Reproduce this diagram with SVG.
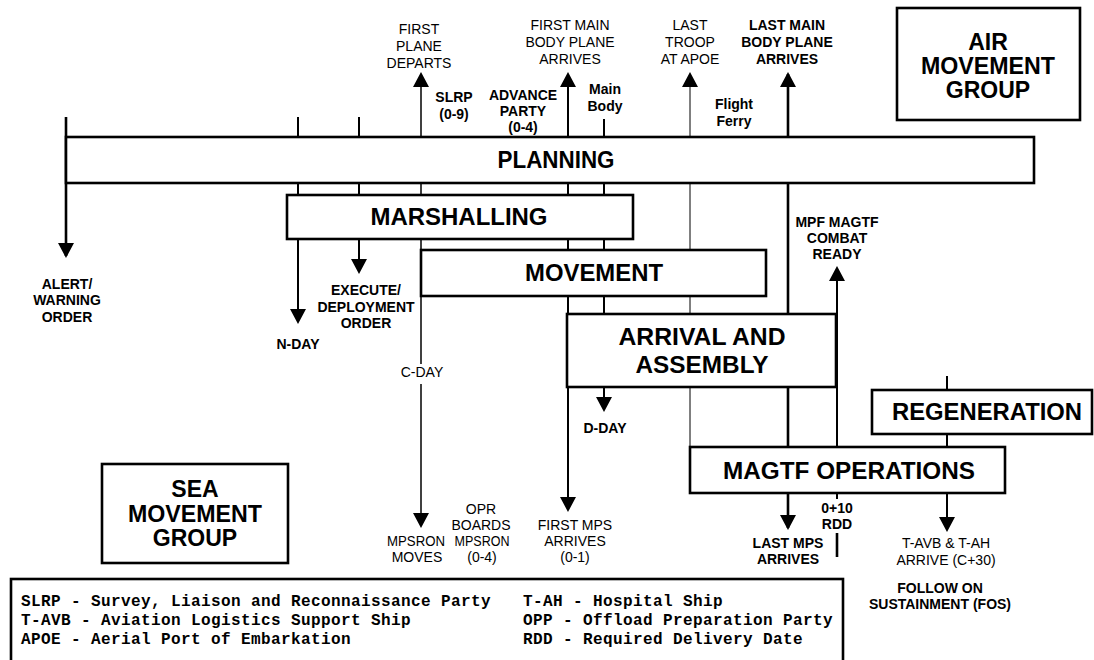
<svg xmlns="http://www.w3.org/2000/svg" width="1094" height="660" viewBox="0 0 1094 660">
<style>
.box{fill:#fff;stroke:#000;stroke-width:2.6}
.ttl{font-family:"Liberation Sans",Arial,sans-serif;font-weight:bold;font-size:23px;text-anchor:middle;fill:#000}
.lb{font-family:"Liberation Sans",Arial,sans-serif;font-weight:bold;font-size:14px;text-anchor:middle;fill:#000}
.lr{font-family:"Liberation Sans",Arial,sans-serif;font-size:14px;text-anchor:middle;fill:#000}
.lg{font-family:"Liberation Mono","Courier New",monospace;font-weight:bold;font-size:16px;letter-spacing:0.4px;fill:#000}
.c{fill:none;stroke:#000;stroke-width:2}
.thin{stroke-width:1}
.mid{stroke-width:1.5}
.thick{stroke-width:2.6}
</style>
<defs>
<marker id="ah" viewBox="0 0 15 16" refX="13" refY="8" markerWidth="15" markerHeight="16" markerUnits="userSpaceOnUse" orient="auto-start-reverse">
<path d="M0,0 L15,8 L0,16 z" fill="#000"/>
</marker>
</defs>

<g id="connectors">
<line class="c thick" x1="66" y1="117" x2="66" y2="256" marker-end="url(#ah)"/>
<line class="c" x1="298" y1="117" x2="298" y2="322" marker-end="url(#ah)"/>
<line class="c" x1="359" y1="117" x2="359" y2="272" marker-end="url(#ah)"/>
<line class="c mid" x1="421" y1="74" x2="421" y2="364" marker-start="url(#ah)"/>
<line class="c mid" x1="421" y1="384" x2="421" y2="526" marker-end="url(#ah)"/>
<line class="c" x1="568" y1="74" x2="568" y2="510" marker-start="url(#ah)" marker-end="url(#ah)"/>
<line class="c" x1="604" y1="119" x2="604" y2="410" marker-end="url(#ah)"/>
<line class="c thin" x1="690" y1="74" x2="690" y2="447" marker-start="url(#ah)"/>
<line class="c thick" x1="788" y1="74" x2="788" y2="528" marker-start="url(#ah)" marker-end="url(#ah)"/>
<line class="c" x1="837" y1="447" x2="837" y2="268" marker-end="url(#ah)"/>
<line class="c" x1="837" y1="493" x2="837" y2="499"/>
<line class="c thick" x1="837" y1="533" x2="837" y2="557"/>
<line class="c" x1="947" y1="376" x2="947" y2="530" marker-end="url(#ah)"/>
</g>

<g id="planning">
<rect class="box" x="66" y="137" width="968" height="46"/>
<text class="ttl" x="556" y="168" textLength="117" lengthAdjust="spacingAndGlyphs">PLANNING</text>
</g>
<g id="marshalling">
<rect class="box" x="287" y="195" width="346" height="44"/>
<text class="ttl" x="459" y="225" textLength="177" lengthAdjust="spacingAndGlyphs">MARSHALLING</text>
</g>
<g id="movement">
<rect class="box" x="421" y="250" width="345" height="46"/>
<text class="ttl" x="594" y="281" textLength="138" lengthAdjust="spacingAndGlyphs">MOVEMENT</text>
</g>
<g id="arrival">
<rect class="box" x="567" y="314" width="269" height="73"/>
<text class="ttl" x="702" y="345" textLength="167" lengthAdjust="spacingAndGlyphs">ARRIVAL AND</text>
<text class="ttl" x="702" y="373" textLength="133" lengthAdjust="spacingAndGlyphs">ASSEMBLY</text>
</g>
<g id="regeneration">
<rect class="box" x="872" y="390" width="220" height="44"/>
<text class="ttl" x="987" y="420" textLength="190" lengthAdjust="spacingAndGlyphs">REGENERATION</text>
</g>
<g id="magtf-operations">
<rect class="box" x="690" y="447" width="315" height="46"/>
<text class="ttl" x="849" y="479" textLength="252" lengthAdjust="spacingAndGlyphs">MAGTF OPERATIONS</text>
</g>
<g id="air-movement-group">
<rect class="box" x="897" y="8" width="183" height="112"/>
<text class="ttl" x="988" y="50">AIR</text>
<text class="ttl" x="988" y="74" textLength="134" lengthAdjust="spacingAndGlyphs">MOVEMENT</text>
<text class="ttl" x="988" y="98">GROUP</text>
</g>
<g id="sea-movement-group">
<rect class="box" x="102" y="464" width="186" height="99"/>
<text class="ttl" x="195" y="497">SEA</text>
<text class="ttl" x="195" y="522" textLength="134" lengthAdjust="spacingAndGlyphs">MOVEMENT</text>
<text class="ttl" x="195" y="546">GROUP</text>
</g>

<g id="labels">
<text class="lr" x="419" y="34">FIRST</text>
<text class="lr" x="419" y="51">PLANE</text>
<text class="lr" x="419" y="68">DEPARTS</text>
<text class="lb" x="454" y="102">SLRP</text>
<text class="lb" x="454" y="119">(0-9)</text>
<text class="lb" x="523" y="100">ADVANCE</text>
<text class="lb" x="523" y="116">PARTY</text>
<text class="lb" x="523" y="132">(0-4)</text>
<text class="lr" x="570" y="30">FIRST MAIN</text>
<text class="lr" x="570" y="47">BODY PLANE</text>
<text class="lr" x="570" y="64">ARRIVES</text>
<text class="lb" x="605" y="94">Main</text>
<text class="lb" x="605" y="111">Body</text>
<text class="lr" x="690" y="30">LAST</text>
<text class="lr" x="690" y="47">TROOP</text>
<text class="lr" x="690" y="64">AT APOE</text>
<text class="lb" x="734" y="109">Flight</text>
<text class="lb" x="734" y="126">Ferry</text>
<text class="lb" x="787" y="30">LAST MAIN</text>
<text class="lb" x="787" y="47">BODY PLANE</text>
<text class="lb" x="787" y="64">ARRIVES</text>
<text class="lb" x="67" y="289">ALERT/</text>
<text class="lb" x="67" y="305">WARNING</text>
<text class="lb" x="67" y="322">ORDER</text>
<text class="lb" x="298" y="349">N-DAY</text>
<text class="lb" x="366" y="295">EXECUTE/</text>
<text class="lb" x="366" y="312">DEPLOYMENT</text>
<text class="lb" x="366" y="328">ORDER</text>
<text class="lr" x="422" y="377">C-DAY</text>
<text class="lb" x="837" y="227">MPF MAGTF</text>
<text class="lb" x="837" y="243">COMBAT</text>
<text class="lb" x="837" y="259">READY</text>
<text class="lb" x="605" y="433">D-DAY</text>
<text class="lr" x="481" y="514">OPR</text>
<text class="lr" x="481" y="530">BOARDS</text>
<text class="lr" x="482" y="546" textLength="55" lengthAdjust="spacingAndGlyphs">MPSRON</text>
<text class="lr" x="482" y="562">(0-4)</text>
<text class="lr" x="416" y="546" textLength="58" lengthAdjust="spacingAndGlyphs">MPSRON</text>
<text class="lr" x="417" y="562">MOVES</text>
<text class="lr" x="575" y="530">FIRST MPS</text>
<text class="lr" x="575" y="546">ARRIVES</text>
<text class="lr" x="575" y="562">(0-1)</text>
<text class="lb" x="788" y="548">LAST MPS</text>
<text class="lb" x="788" y="564">ARRIVES</text>
<text class="lb" x="837" y="513">0+10</text>
<text class="lb" x="837" y="529">RDD</text>
<text class="lr" x="946" y="548">T-AVB &amp; T-AH</text>
<text class="lr" x="946" y="565">ARRIVE (C+30)</text>
<text class="lb" x="940" y="593">FOLLOW ON</text>
<text class="lb" x="940" y="609">SUSTAINMENT (FOS)</text>
</g>

<g id="legend">
<rect class="box" x="11" y="579" width="832" height="90" stroke-width="3"/>
<text class="lg" x="21" y="606">SLRP - Survey, Liaison and Reconnaissance Party</text>
<text class="lg" x="21" y="625">T-AVB - Aviation Logistics Support Ship</text>
<text class="lg" x="21" y="644">APOE - Aerial Port of Embarkation</text>
<text class="lg" x="523" y="606">T-AH - Hospital Ship</text>
<text class="lg" x="523" y="625">OPP - Offload Preparation Party</text>
<text class="lg" x="523" y="644">RDD - Required Delivery Date</text>
</g>
</svg>
